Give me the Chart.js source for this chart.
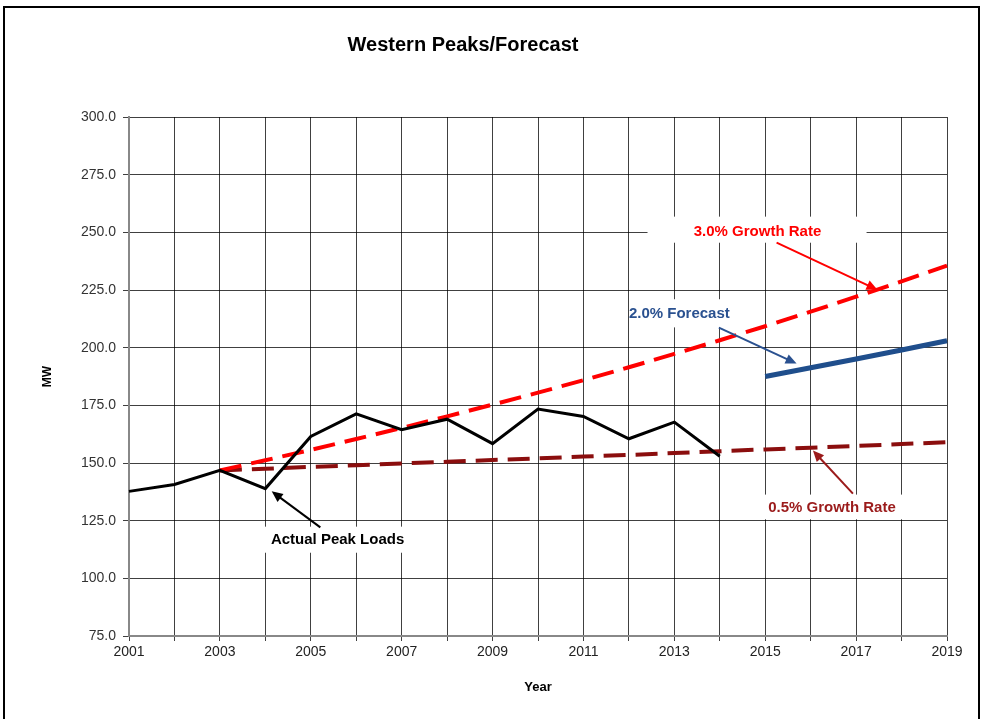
<!DOCTYPE html>
<html>
<head>
<meta charset="utf-8">
<script src="https://cdn.jsdelivr.net/npm/chart.js@4.4.1/dist/chart.umd.min.js"></script>
<style>
  body { margin: 0; background: #fff; }
  #wrap { width: 984px; height: 719px; position: relative; }
</style>
</head>
<body>
<div id="wrap"><canvas id="peakChart"></canvas></div>
<script>
const years = ['2001', '2002', '2003', '2004', '2005', '2006', '2007', '2008', '2009', '2010',
               '2011', '2012', '2013', '2014', '2015', '2016', '2017', '2018', '2019'];

// actual peaks 2001-2014
const actualPeaks = [137.7, 140.7, 146.8, 138.9, 161.5, 171.3, 164.4, 169.0, 158.4, 173.4,
                     170.2, 160.5, 167.7, 152.9, null, null, null, null, null];

// 3.0% growth from 2003
const growth3 = [null, null, 146.8, 151.2, 155.7, 160.4, 165.2, 170.2, 175.3, 180.5,
                 185.9, 191.5, 197.3, 203.2, 209.3, 215.6, 222.1, 228.7, 235.6];

// 0.5% growth from 2003
const growth05 = [null, null, 146.8, 147.5, 148.3, 149.0, 149.8, 150.5, 151.3, 152.0,
                  152.8, 153.5, 154.3, 155.1, 155.9, 156.6, 157.4, 158.2, 159.0];

// 2.0% forecast 2015-2019
const forecast2 = [null, null, null, null, null, null, null, null, null, null,
                   null, null, null, null, 187.5, 191.3, 195.1, 199.0, 203.0];

const yTicks = { min: 75, max: 300, step: 25 };

// callouts: text centre and box in (year index, MW), arrow from -> to
const notes = [
  { text: '3.0% Growth Rate', color: '#ff0000', at: [13.83, 250.2], box: [11.41, 256.8, 16.23, 245.5],
    arrow: [[14.25, 245.5], [16.47, 225.1]] },
  { text: '2.0% Forecast', color: '#2a5190', at: [12.11, 214.7], box: [11.8, 221.0, 13.9, 208.8],
    arrow: [[12.98, 208.7], [14.69, 193.1]] },
  { text: '0.5% Growth Rate', color: '#9b1b1b', at: [15.47, 130.7], box: [13.65, 136.3, 17.95, 125.6],
    arrow: [[15.93, 136.7], [15.05, 155.4]] },
  { text: 'Actual Peak Loads', color: '#000000', at: [4.59, 116.8], box: [2.76, 122.4, 6.39, 111.1],
    arrow: [[4.21, 122.1], [3.14, 137.7]] }
];

function drawArrow(ctx, x1, y1, x2, y2, color) {
  const ang = Math.atan2(y2 - y1, x2 - x1);
  const head = 11, wing = 5;
  ctx.save();
  ctx.strokeStyle = color;
  ctx.fillStyle = color;
  ctx.lineWidth = 2;
  ctx.beginPath();
  ctx.moveTo(x1, y1);
  ctx.lineTo(x2 - Math.cos(ang) * head * 0.8, y2 - Math.sin(ang) * head * 0.8);
  ctx.stroke();
  ctx.beginPath();
  ctx.moveTo(x2, y2);
  ctx.lineTo(x2 - Math.cos(ang) * head - Math.sin(ang) * wing, y2 - Math.sin(ang) * head + Math.cos(ang) * wing);
  ctx.lineTo(x2 - Math.cos(ang) * head + Math.sin(ang) * wing, y2 - Math.sin(ang) * head - Math.cos(ang) * wing);
  ctx.closePath();
  ctx.fill();
  ctx.restore();
}

const calloutPlugin = {
  id: 'callouts',
  beforeDatasetsDraw(chart) {
    const { ctx, scales: { x, y } } = chart;
    ctx.save();
    ctx.fillStyle = '#fff';
    notes.forEach(n => {
      const x1 = x.getPixelForValue(n.box[0]), y1 = y.getPixelForValue(n.box[1]);
      const x2 = x.getPixelForValue(n.box[2]), y2 = y.getPixelForValue(n.box[3]);
      ctx.fillRect(x1, y1, x2 - x1, y2 - y1);
    });
    ctx.restore();
  },
  afterDatasetsDraw(chart) {
    const { ctx, scales: { x, y } } = chart;
    ctx.save();
    ctx.font = 'bold 15px "Liberation Sans", Arial, sans-serif';
    ctx.textAlign = 'center';
    ctx.textBaseline = 'middle';
    notes.forEach(n => {
      ctx.fillStyle = n.color;
      ctx.fillText(n.text, x.getPixelForValue(n.at[0]), y.getPixelForValue(n.at[1]));
      const [a, b] = n.arrow;
      drawArrow(ctx, x.getPixelForValue(a[0]), y.getPixelForValue(a[1]),
                x.getPixelForValue(b[0]), y.getPixelForValue(b[1]), n.color);
    });
    ctx.restore();
  },
  afterDraw(chart) {
    const ctx = chart.ctx;
    ctx.save();
    // outer frame
    ctx.strokeStyle = '#000';
    ctx.lineWidth = 2;
    ctx.strokeRect(4, 7, 975, 730);
    // title
    ctx.fillStyle = '#000';
    ctx.font = 'bold 20px "Liberation Sans", Arial, sans-serif';
    ctx.textAlign = 'center';
    ctx.textBaseline = 'middle';
    ctx.fillText('Western Peaks/Forecast', 463, 45);
    ctx.restore();
  }
};

const gridColor = 'rgba(0,0,0,0.75)';
const tickFont = { family: '"Liberation Sans", Arial, sans-serif', size: 14 };

new Chart(document.getElementById('peakChart').getContext('2d'), {
  type: 'line',
  data: {
    labels: years,
    datasets: [
      { label: 'Actual Peak Loads', data: actualPeaks, borderColor: '#000', borderWidth: 3 },
      { label: '2.0% Forecast', data: forecast2, borderColor: '#1f4e8c', borderWidth: 5 },
      { label: '3.0% Growth Rate', data: growth3, borderColor: '#ff0000', borderWidth: 4, borderDash: [22, 10] },
      { label: '0.5% Growth Rate', data: growth05, borderColor: '#8b0e0e', borderWidth: 4, borderDash: [22, 10] }
    ]
  },
  options: {
    responsive: true,
    maintainAspectRatio: false,
    animation: false,
    layout: { padding: { left: 0, right: 37, top: 117, bottom: 0 } },
    elements: { point: { radius: 0 }, line: { tension: 0, borderCapStyle: 'butt' } },
    plugins: { legend: { display: false }, tooltip: { enabled: false } },
    scales: {
      x: {
        offset: false,
        afterFit: s => { s.height = 83; },
        grid: { color: gridColor, lineWidth: 1, tickLength: 5, drawTicks: true },
        border: { color: '#888', width: 2 },
        ticks: {
          autoSkip: false, maxRotation: 0, padding: 3, color: '#222', font: tickFont,
          callback: (v, i) => (i % 2 === 0 ? years[i] : '')
        },
        title: {
          display: true, text: 'Year', color: '#000',
          font: { family: '"Liberation Sans", Arial, sans-serif', size: 13, weight: 'bold' },
          padding: { top: 0, bottom: 24 }
        }
      },
      y: {
        min: yTicks.min, max: yTicks.max,
        afterFit: s => { s.width = 129; },
        grid: { color: gridColor, lineWidth: 1, tickLength: 6, drawTicks: true },
        border: { color: '#888', width: 2 },
        ticks: {
          stepSize: yTicks.step, padding: 7, color: '#333', font: tickFont,
          callback: v => v.toFixed(1)
        },
        title: {
          display: true, text: 'MW', color: '#000',
          font: { family: '"Liberation Sans", Arial, sans-serif', size: 12, weight: 'bold' },
          padding: { top: 40, bottom: 0 }
        }
      }
    }
  },
  plugins: [calloutPlugin]
});
</script>
</body>
</html>
